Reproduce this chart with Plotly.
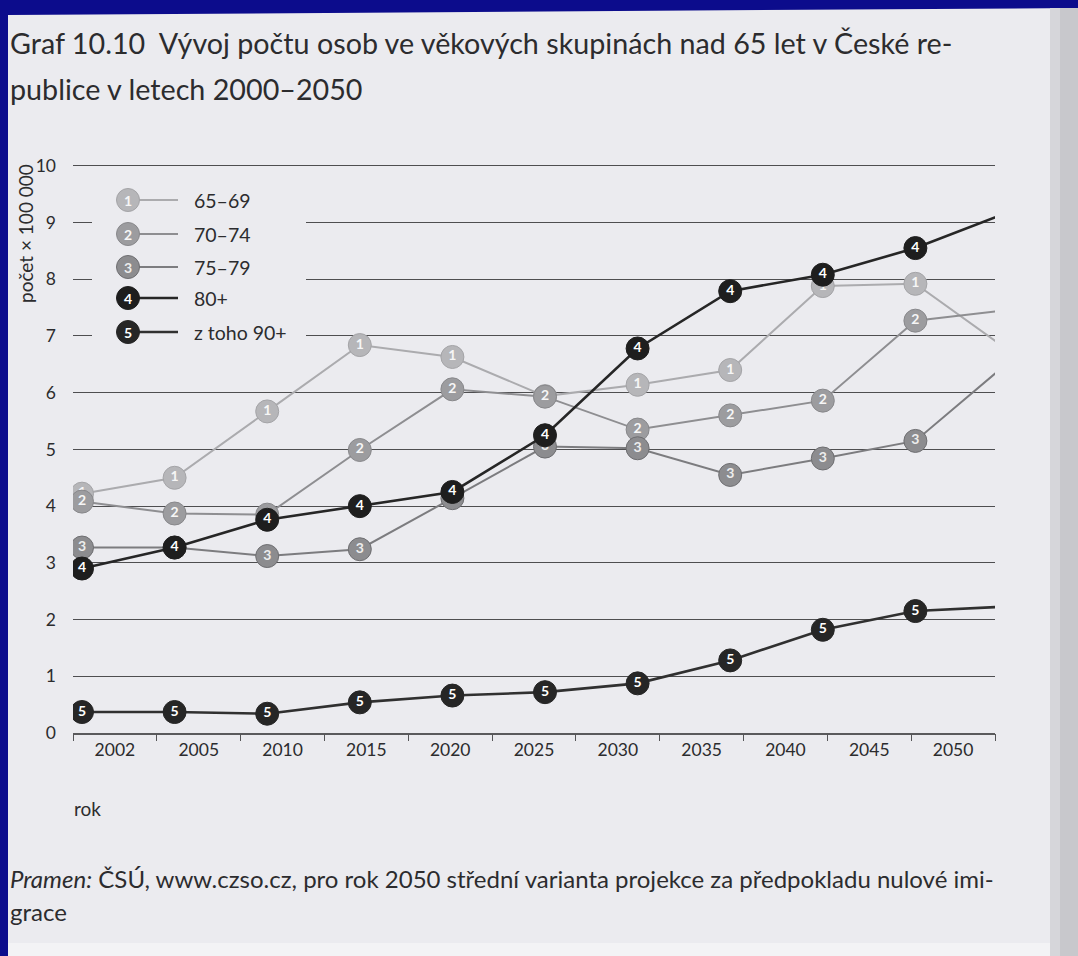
import plotly.graph_objects as go

# ---------------- data ----------------
years = [2000, 2005, 2010, 2015, 2020, 2025, 2030, 2035, 2040, 2045, 2050]
tick_labels = ["2002", "2005", "2010", "2015", "2020", "2025", "2030",
               "2035", "2040", "2045", "2050"]

s_65_69 = [4.22, 4.50, 5.67, 6.84, 6.63, 5.94, 6.14, 6.40, 7.88, 7.92, 6.75]
s_70_74 = [4.08, 3.87, 3.85, 4.99, 6.06, 5.93, 5.35, 5.60, 5.86, 7.27, 7.46]
s_75_79 = [3.27, 3.27, 3.12, 3.24, 4.14, 5.05, 5.02, 4.55, 4.84, 5.15, 6.53]
s_80p = [2.90, 3.27, 3.76, 4.00, 4.25, 5.25, 6.78, 7.79, 8.08, 8.55, 9.18]
s_90p = [0.37, 0.37, 0.34, 0.54, 0.66, 0.72, 0.875, 1.28, 1.82, 2.15, 2.23]

series_names = ["65–69", "70–74", "75–79", "80+", "z toho 90+"]
series_values = [s_65_69, s_70_74, s_75_79, s_80p, s_90p]
series_digits = ["1", "2", "3", "4", "5"]

y_ticks = list(range(0, 11))

# ---------------- layout helpers (pixels) ----------------
FIG_W, FIG_H = 1078, 956
L, R, T, B = 73, 995, 163, 733
PW, PH = R - L, B - T


def px(x):
    return (x - L) / PW


def py(y):
    return (B - y) / PH


FONT = "Lato, 'Open Sans', sans-serif"
TXT = "#2c2c2e"
PAGE = "#ebebef"
BLUE = "#0c0c8c"

styles = [
    dict(line="#ababae", width=2.0, marker="#b6b6b9", mline="#a4a4a7", text="#f6f6f6"),
    dict(line="#8e8e91", width=2.0, marker="#9c9c9f", mline="#88888b", text="#f6f6f6"),
    dict(line="#7c7c7f", width=2.0, marker="#8c8c8f", mline="#6e6e71", text="#ededed"),
    dict(line="#262626", width=2.6, marker="#1e1e1e", mline="#1e1e1e", text="#ffffff"),
    dict(line="#303030", width=2.6, marker="#262626", mline="#262626", text="#ffffff"),
]
MSIZE = 23

fig = go.Figure()

for name, vals, digit, st in zip(series_names, series_values, series_digits, styles):
    fig.add_trace(go.Scatter(
        x=years, y=vals, name=name,
        mode="lines+markers+text",
        text=[digit] * len(years),
        textposition="middle center",
        textfont=dict(family=FONT, size=14, color=st["text"], weight="bold"),
        marker=dict(size=MSIZE, color=st["marker"], line=dict(color=st["mline"], width=1)),
        line=dict(color=st["line"], width=st["width"]),
        showlegend=False, hoverinfo="skip", cliponaxis=True,
    ))

# invisible trace to carry the category tick axis
fig.add_trace(go.Scatter(
    x=tick_labels, y=[0] * len(tick_labels), xaxis="x2", yaxis="y",
    mode="markers", marker=dict(size=1, opacity=0),
    showlegend=False, hoverinfo="skip",
))

# ---------------- shapes (page background) ----------------
shapes = [
    dict(type="path", xref="paper", yref="paper", layer="below",
         path="M {a},{b} L {c},{d} L {c},{e} L {a},{e} Z".format(
             a=px(8), b=py(15), c=px(1078), d=py(8), e=py(956)),
         fillcolor=PAGE, line=dict(width=0)),
    dict(type="rect", xref="paper", yref="paper", layer="below",
         x0=px(8), x1=px(1050), y0=py(956), y1=py(943),
         fillcolor="#f3f3f5", line=dict(width=0)),
    dict(type="rect", xref="paper", yref="paper", layer="below",
         x0=px(1050), x1=px(1078), y0=py(956), y1=py(8),
         fillcolor="#d6d6da", line=dict(width=0)),
    dict(type="rect", xref="paper", yref="paper", layer="below",
         x0=px(1060), x1=px(1078), y0=py(956), y1=py(8),
         fillcolor="#c8c8cc", line=dict(width=0)),
]

ann = []


def text_at(x, y, s, size, **kw):
    d = dict(xref="paper", yref="paper", x=px(x), y=py(y), text=s, showarrow=False,
             xanchor="left", yanchor="middle",
             font=dict(family=FONT, size=size, color=TXT))
    d.update(kw)
    ann.append(d)


# ---------------- custom legend (box, glyphs, labels) ----------------
LEG_BOX = [92, 306, 178, 346]   # x0, x1, y0, y1 in page pixels
LEG_ROWS = [200, 234, 267, 298, 332]
LEG_MX, LEG_LX, LEG_TX = 128, 178, 192
RAD = MSIZE / 2

shapes.append(dict(type="rect", xref="paper", yref="paper", layer="above",
                   x0=px(LEG_BOX[0]), x1=px(LEG_BOX[1]),
                   y0=py(LEG_BOX[3]), y1=py(LEG_BOX[2]),
                   fillcolor=PAGE, line=dict(width=0)))
for st, ry in zip(styles, LEG_ROWS):
    shapes.append(dict(type="line", xref="paper", yref="paper", layer="above",
                       x0=px(LEG_MX), x1=px(LEG_LX), y0=py(ry), y1=py(ry),
                       line=dict(color=st["line"], width=st["width"])))
for st, ry in zip(styles, LEG_ROWS):
    shapes.append(dict(type="circle", xref="paper", yref="paper", layer="above",
                       x0=px(LEG_MX - RAD), x1=px(LEG_MX + RAD),
                       y0=py(ry + RAD), y1=py(ry - RAD),
                       fillcolor=st["marker"], line=dict(color=st["mline"], width=1)))
for name, digit, st, ry in zip(series_names, series_digits, styles, LEG_ROWS):
    ann.append(dict(xref="paper", yref="paper", x=px(LEG_MX), y=py(ry + 0.5), text=digit,
                    showarrow=False, xanchor="center", yanchor="middle",
                    font=dict(family=FONT, size=14, color=st["text"], weight="bold")))
    text_at(LEG_TX, ry, name, 19.5)

# ---------------- texts ----------------
text_at(8, 43, "Graf 10.10  Vývoj počtu osob ve věkových skupinách nad 65 let v České re-", 28.7)
text_at(8, 89, "publice v letech 2000–2050", 28.7)
text_at(72, 808, "rok", 19)
text_at(8, 878, "<i>Pramen:</i> ČSÚ, www.czso.cz, pro rok 2050 střední varianta projekce za předpokladu nulové imi-", 24)
text_at(8, 911, "grace", 24)
ann.append(dict(xref="paper", yref="paper", x=px(25), y=py(234), text="počet × 100 000",
                showarrow=False, textangle=-90, xanchor="center", yanchor="middle",
                font=dict(family=FONT, size=19, color=TXT)))

# ---------------- layout ----------------
X_PER_PX = 5 / 92.6
x_range = [2000 - (82 - L) * X_PER_PX, 2000 + (R - 82) * X_PER_PX]

fig.update_layout(
    width=FIG_W, height=FIG_H,
    margin=dict(l=L, r=FIG_W - R, t=T, b=FIG_H - B, pad=0),
    paper_bgcolor=BLUE, plot_bgcolor="rgba(0,0,0,0)",
    showlegend=False,
    font=dict(family=FONT, color=TXT),
    xaxis=dict(range=x_range, showgrid=False, zeroline=False, showticklabels=False,
               ticks="", showline=True, linecolor="#5a5a5c", linewidth=1.5,
               fixedrange=True),
    xaxis2=dict(overlaying="x", anchor="y", side="bottom", type="category",
                categoryorder="array", categoryarray=tick_labels,
                range=[-0.5, len(tick_labels) - 0.5], tickson="boundaries",
                ticks="outside", ticklen=7, tickwidth=1.2, tickcolor="#555557",
                showgrid=False, showline=False, zeroline=False,
                tickfont=dict(family=FONT, size=17.5, color=TXT),
                ticklabelstandoff=4, fixedrange=True),
    yaxis=dict(range=[0, 10.05], tickvals=y_ticks, ticktext=[str(v) for v in y_ticks],
               showgrid=True, gridcolor="#4e4e50", gridwidth=1.3,
               zeroline=False, showline=False, ticks="",
               tickfont=dict(family=FONT, size=17.5, color=TXT),
               ticklabelstandoff=16, fixedrange=True),
    shapes=shapes,
    annotations=ann,
)

fig.write_html("out.html", config={"displayModeBar": False},
               post_script="document.body.style.margin='0';")
